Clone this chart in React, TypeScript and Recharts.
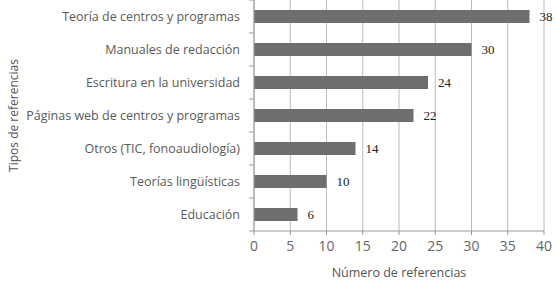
import { BarChart, Bar, XAxis, YAxis, CartesianGrid, LabelList, Label } from 'recharts';

const categories = [
  'Teoría de centros y programas',
  'Manuales de redacción',
  'Escritura en la universidad',
  'Páginas web de centros y programas',
  'Otros (TIC, fonoaudiología)',
  'Teorías lingüísticas',
  'Educación',
];
const counts = [38, 30, 24, 22, 14, 10, 6];
const xTicks = [0, 5, 10, 15, 20, 25, 30, 35, 40];

const data = categories.map((name, i) => ({ name, value: counts[i] }));

const WIDTH = 556;
const HEIGHT = 287;
const MARGIN = { top: 0, right: 12, bottom: 0, left: 0 };
const X_AXIS_H = 56;
const Y_AXIS_W = 254;
const PLOT_H = HEIGHT - MARGIN.top - MARGIN.bottom - X_AXIS_H;
const HALF_BAND = PLOT_H / categories.length / 2;
const SANS = '"Open Sans", sans-serif';

function CategoryTick(props: any) {
  const { x, y, payload, index } = props;
  const axisX = x + 14;
  return (
    <g>
      <text x={x} y={y} dy={4} textAnchor="end" fontFamily={SANS} fontSize={12.5} fill="#5a5a5a">
        {payload.value}
      </text>
      {index === 0 && (
        <line x1={axisX - 5} x2={axisX} y1={y - HALF_BAND} y2={y - HALF_BAND} stroke="#999" />
      )}
      <line x1={axisX - 5} x2={axisX} y1={y + HALF_BAND} y2={y + HALF_BAND} stroke="#999" />
    </g>
  );
}

function YTitle() {
  const cx = 13;
  const cy = MARGIN.top + PLOT_H / 2;
  return (
    <text
      x={cx}
      y={cy}
      transform={`rotate(-90 ${cx} ${cy})`}
      textAnchor="middle"
      dominantBaseline="central"
      fontFamily={SANS}
      fontSize={12}
      fill="#555"
    >
      Tipos de referencias
    </text>
  );
}

export default function App() {
  return (
    <div style={{ position: 'absolute', left: 0, top: 0, background: '#fff' }}>
      <BarChart width={WIDTH} height={HEIGHT} data={data} layout="vertical" margin={MARGIN}>
        <CartesianGrid horizontal={false} vertical stroke="#bbb" />
        <XAxis
          type="number"
          domain={[0, 40]}
          ticks={xTicks}
          height={X_AXIS_H}
          tickSize={4}
          tickMargin={6}
          stroke="#999"
          tick={{ fontFamily: SANS, fontSize: 14, fill: '#666' }}
          label={{
            value: 'Número de referencias',
            position: 'insideBottom',
            offset: 10,
            fontFamily: SANS,
            fontSize: 12.5,
            fill: '#555',
          }}
        />
        <YAxis
          type="category"
          dataKey="name"
          width={Y_AXIS_W}
          tickLine={false}
          tickSize={0}
          tickMargin={14}
          stroke="#999"
          tick={<CategoryTick />}
          interval={0}
        >
          <Label content={<YTitle />} />
        </YAxis>
        <Bar dataKey="value" fill="#6e6e6e" barSize={13} isAnimationActive={false}>
          <LabelList
            dataKey="value"
            position="right"
            offset={10}
            fontFamily='"Liberation Serif", serif'
            fontSize={13}
            fill="#222"
          />
        </Bar>
      </BarChart>
    </div>
  );
}
